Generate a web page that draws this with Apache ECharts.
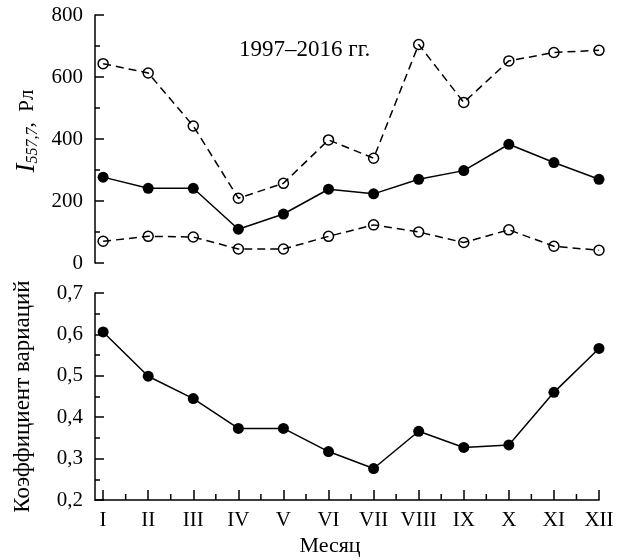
<!DOCTYPE html>
<html>
<head>
<meta charset="utf-8">
<script src="https://cdn.jsdelivr.net/npm/echarts@6/dist/echarts.min.js"></script>
<style>
  html, body { margin: 0; padding: 0; background: #fff; }
  #main { width: 624px; height: 560px; }
</style>
</head>
<body>
<div id="main"></div>
<script>
// месяцы
var months = ['I', 'II', 'III', 'IV', 'V', 'VI', 'VII', 'VIII', 'IX', 'X', 'XI', 'XII'];
// интенсивность 557,7 нм, Рл
var upperI = [643, 613, 442, 209, 257, 397, 338, 705, 518, 652, 679, 686];
var meanI = [277, 241, 241, 109, 158, 238, 223, 270, 298, 383, 324, 270];
var lowerI = [70, 86, 84, 45, 45, 86, 123, 100, 66, 107, 54, 41];
// коэффициент вариаций
var cv = [0.606, 0.499, 0.445, 0.373, 0.373, 0.317, 0.276, 0.366, 0.327, 0.333, 0.460, 0.566];

var FONT = 'Liberation Serif';
var majorX = months.map(function (m, i) { return i + 1; });
var minorX = months.slice(1).map(function (m, i) { return i + 1.5; });

function pairs(arr) {
    return arr.map(function (v, i) { return [i + 1, v]; });
}

var myChart = echarts.init(document.getElementById('main'));

var solidSeries = function (data, xi, yi) {
    return {
        type: 'line',
        xAxisIndex: xi,
        yAxisIndex: yi,
        data: pairs(data),
        symbol: 'circle',
        symbolSize: 11,
        itemStyle: { color: '#000' },
        lineStyle: { color: '#000', width: 1.5 },
        animation: false
    };
};
var dashSeries = function (data) {
    return {
        type: 'line',
        xAxisIndex: 0,
        yAxisIndex: 0,
        data: pairs(data),
        symbol: 'circle',
        symbolSize: 10,
        itemStyle: { color: 'rgba(0,0,0,0)', borderColor: '#000', borderWidth: 1.5 },
        lineStyle: { color: '#000', width: 1.5, type: [8, 5] },
        animation: false
    };
};

// промежуточные деления нижней оси X
var minorTicks = {
    type: 'custom',
    xAxisIndex: 1,
    yAxisIndex: 1,
    silent: true,
    animation: false,
    z: 10,
    data: minorX.map(function (v) { return [v, 0.2]; }),
    renderItem: function (params, api) {
        var p = api.coord([api.value(0), api.value(1)]);
        return {
            type: 'line',
            shape: { x1: p[0], y1: p[1], x2: p[0], y2: p[1] - 6 },
            style: { stroke: '#000', lineWidth: 1.5 }
        };
    }
};

var option = {
    backgroundColor: '#fff',
    title: {
        text: '1997\u20132016 гг.',
        left: 234,
        top: 33,
        textStyle: { fontFamily: FONT, fontSize: 23, fontWeight: 'normal', color: '#000' }
    },
    grid: [
        { left: 95, top: 15, width: 504, height: 248 },
        { left: 95, top: 293, width: 504, height: 207 }
    ],
    xAxis: [
        { gridIndex: 0, type: 'value', min: 0.82, max: 12, show: false },
        {
            gridIndex: 1, type: 'value', min: 0.82, max: 12, position: 'bottom',
            name: 'Месяц', nameLocation: 'middle', nameGap: 35,
            nameTextStyle: { fontFamily: FONT, fontSize: 22, color: '#000', padding: [0, 34, 0, 0] },
            axisLine: { lineStyle: { color: '#000', width: 1.5 } },
            axisTick: { show: true, inside: true, length: 10, customValues: majorX, lineStyle: { color: '#000', width: 1.5 } },
            axisLabel: {
                customValues: majorX, margin: 10,
                fontFamily: FONT, fontSize: 21, color: '#000',
                formatter: function (v) { return months[Math.round(v) - 1]; }
            },
            splitLine: { show: false }
        }
    ],
    yAxis: [
        {
            gridIndex: 0, type: 'value', min: 0, max: 800, interval: 200,
            name: '{i|I}{sub|557,7}{n|,  Рл}', nameLocation: 'middle', nameGap: 52,
            nameTextStyle: {
                color: '#000',
                padding: [0, 0, 0, 16],
                rich: {
                    i: { fontFamily: FONT, fontSize: 27, fontStyle: 'italic', color: '#000' },
                    sub: { fontFamily: FONT, fontSize: 16, fontStyle: 'italic', color: '#000', verticalAlign: 'bottom', padding: [10, 0, 0, 0] },
                    n: { fontFamily: FONT, fontSize: 21, color: '#000' }
                }
            },
            axisLine: { show: true, lineStyle: { color: '#000', width: 1.5 } },
            axisTick: { show: true, inside: true, length: 9, lineStyle: { color: '#000', width: 1.5 } },
            minorTick: { show: true, splitNumber: 2, length: 5, lineStyle: { color: '#000', width: 1.5 } },
            axisLabel: { margin: 12, fontFamily: FONT, fontSize: 21, color: '#000' },
            splitLine: { show: false }
        },
        {
            gridIndex: 1, type: 'value', min: 0.2, max: 0.7, interval: 0.1,
            name: 'Коэффициент вариаций', nameLocation: 'middle', nameGap: 61,
            nameTextStyle: { fontFamily: FONT, fontSize: 23, color: '#000' },
            axisLine: { show: true, lineStyle: { color: '#000', width: 1.5 } },
            axisTick: { show: true, inside: true, length: 9, lineStyle: { color: '#000', width: 1.5 } },
            minorTick: { show: true, splitNumber: 2, length: 5, lineStyle: { color: '#000', width: 1.5 } },
            axisLabel: {
                margin: 12, fontFamily: FONT, fontSize: 21, color: '#000',
                formatter: function (v) { return v.toFixed(1).replace('.', ','); }
            },
            splitLine: { show: false }
        }
    ],
    series: [
        dashSeries(upperI),
        solidSeries(meanI, 0, 0),
        dashSeries(lowerI),
        solidSeries(cv, 1, 1),
        minorTicks
    ]
};
myChart.setOption(option);
</script>
</body>
</html>
